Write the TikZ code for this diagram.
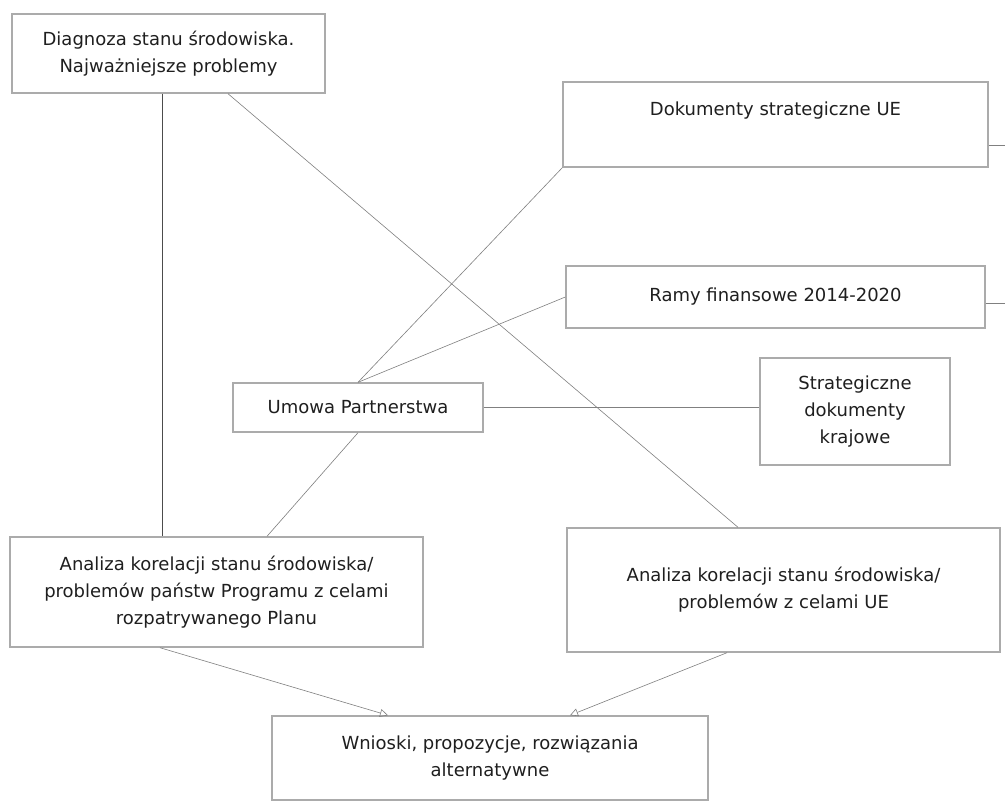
\documentclass[tikz,border=0pt]{standalone}
\usepackage{fontspec}
\setmainfont{DejaVu Sans}
\usetikzlibrary{arrows.meta}
\begin{document}
\begin{tikzpicture}[x=1pt,y=-1pt,
  box/.style={draw=black!33, line width=1.4pt, inner sep=0pt, align=center,
    text=black!88, font=\fontsize{18}{27}\selectfont},
  conn/.style={draw=black!50, line width=0.6pt},
  darkconn/.style={draw=black!70, line width=0.7pt},
  opentip/.style={-{Triangle[open, length=8pt, width=8pt, line width=0.6pt]}}]
\useasboundingbox (0,0) rectangle (1005,807);
\fill[white] (0,0) rectangle (1005,807);

\node[box, minimum width=313pt, minimum height=79pt] (diag) at (168.5,53.5)
  {Diagnoza stanu środowiska.\\Najważniejsze problemy};
\node[box, minimum width=425pt, minimum height=85pt] (dok) at (775.5,124.5)
  {Dokumenty strategiczne UE\\[-4pt]\strut};
\node[box, minimum width=419pt, minimum height=62pt] (ramy) at (775.5,297)
  {Ramy finansowe 2014-2020};
\node[box, minimum width=190pt, minimum height=107pt] (strat) at (855,411.5)
  {Strategiczne\\dokumenty\\krajowe};
\node[box, minimum width=250pt, minimum height=49pt] (umowa) at (358,407.5)
  {Umowa Partnerstwa};
\node[box, minimum width=413pt, minimum height=110pt] (lan) at (216.5,592)
  {Analiza korelacji stanu środowiska/\\problemów państw Programu z celami\\rozpatrywanego Planu};
\node[box, minimum width=433pt, minimum height=124pt] (ran) at (783.5,590)
  {Analiza korelacji stanu środowiska/\\problemów z celami UE};
\node[box, minimum width=436pt, minimum height=84pt] (wn) at (490,758)
  {Wnioski, propozycje, rozwiązania\\alternatywne};

\coordinate (dokout) at (1005,145);
\coordinate (ramyout) at (1005,303);

\draw[darkconn] (diag.south -| 162,0) -- (lan.north -| 162,0);
\draw[conn] (diag.south -| 228,0) -- (ran.north -| 738,0);
\draw[conn] (dok.south west) -- (umowa.north);
\draw[conn] (ramy.west) -- (umowa.north);
\draw[conn] (umowa.east) -- (strat.west |- umowa.east);
\draw[conn] (umowa.south) -- (lan.north -| 267,0);
\draw[conn, opentip] (lan.south -| 160,0) -- (wn.north -| 388,0);
\draw[conn, opentip] (ran.south -| 727,0) -- (wn.north -| 570,0);
\draw[conn] (dok.east |- dokout) -- (dokout);
\draw[conn] (ramy.east |- ramyout) -- (ramyout);
\end{tikzpicture}
\end{document}
